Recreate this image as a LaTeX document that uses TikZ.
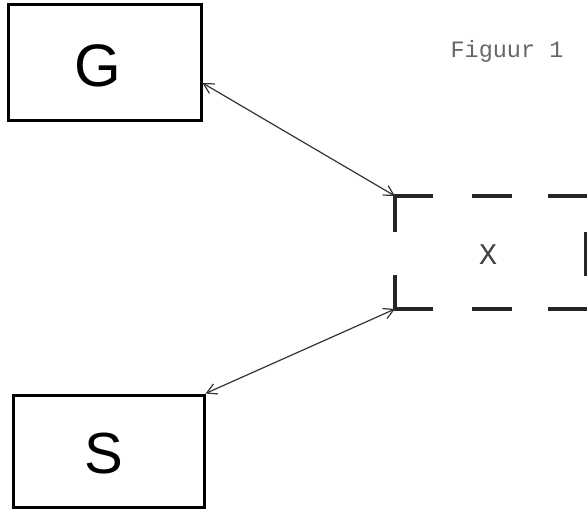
\documentclass[tikz,border=0pt]{standalone}
\usepackage{fontspec}
\setsansfont{Liberation Sans}
\setmonofont{Liberation Mono}
\usepackage{tikz}
\usetikzlibrary{arrows.meta}

\begin{document}
\begin{tikzpicture}[x=1pt,y=-1pt,
    blok/.style={draw,line width=3pt,inner sep=0pt},
    pijl/.style={{Straight Barb[length=10pt,width=11pt]}-{Straight Barb[length=10pt,width=11pt]},line width=1.2pt,black!80},
    stip/.style={line width=3.3pt,black!85}]
    \useasboundingbox (0,0) rectangle (587,513);
    % blokken G en S
    \node[blok,minimum width=193pt,minimum height=116pt] (G) at (104.5,63) {};
    \node[font=\sffamily\fontsize{60}{60}\selectfont] at (98,66) {G};
    \node[blok,minimum width=191pt,minimum height=112pt] (S) at (108.5,451) {};
    \node[font=\sffamily\fontsize{58}{58}\selectfont] at (104,454) {S};
    % gestippelde doos X
    \coordinate (Xb) at (395,196);
    \coordinate (Xo) at (395,309);
    \draw[stip] (395,232) -- (Xb) -- (433,196);
    \draw[stip] (395,275) -- (Xo) -- (433,309);
    \foreach \y in {196,309} {
        \draw[stip] (472,\y) -- (512,\y);
        \draw[stip] (548,\y) -- (590,\y);
    }
    \draw[stip] (586,232) -- (586,276);
    \node[font=\ttfamily\fontsize{30}{30}\selectfont,black!75] (X) at (488,255) {X};
    % pijlen
    \draw[pijl] ([yshift=-20pt]G.east) -- (Xb);
    \draw[pijl] (S.north east) -- (Xo);
    \node[font=\ttfamily\fontsize{23.5}{23.5}\selectfont,black!60] (fig) at (507,51) {Figuur 1};
\end{tikzpicture}
\end{document}
